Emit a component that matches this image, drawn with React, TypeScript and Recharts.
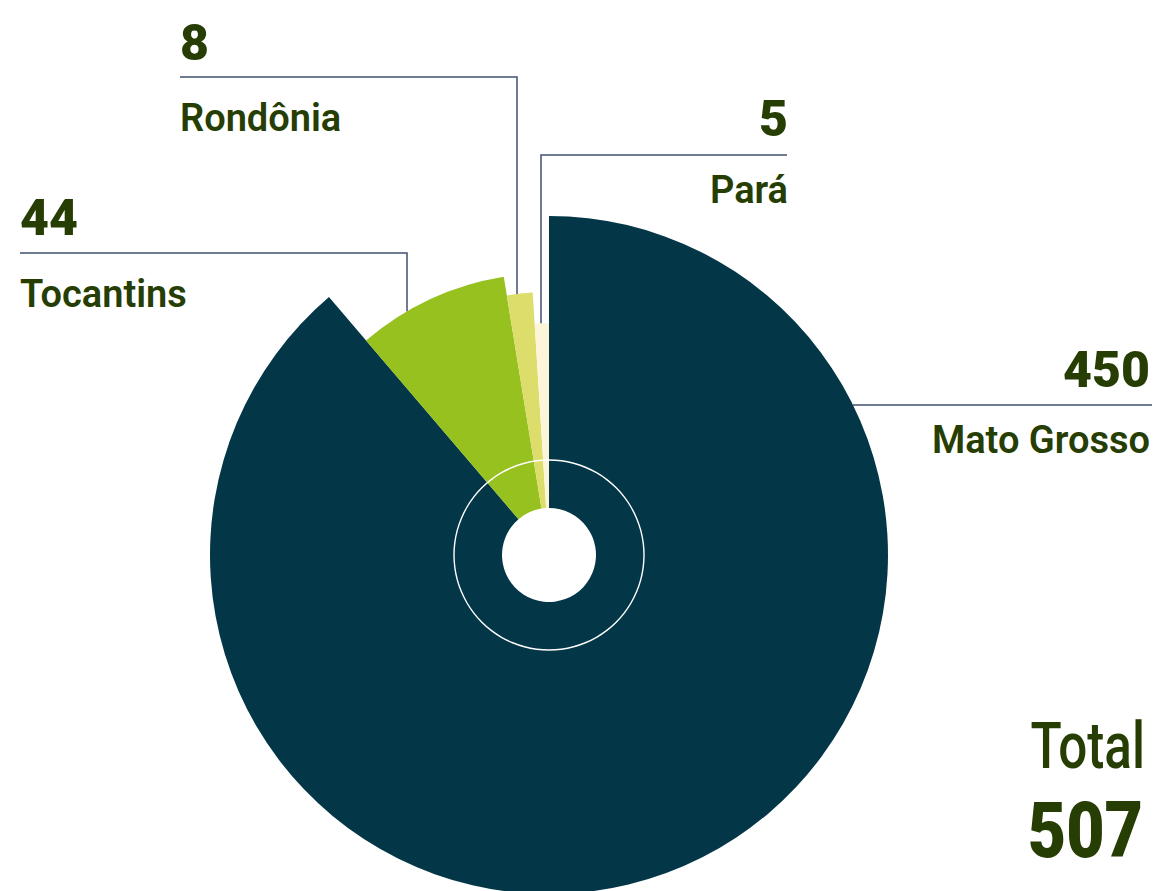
import { PieChart, Pie, Cell } from "recharts"

// estados e número de ocorrências
const categories = ["Mato Grosso", "Tocantins", "Rondônia", "Pará"]
const values = [450, 44, 8, 5]
const totalLabel = "Total"
const total = values.reduce((a, b) => a + b, 0)

const data = categories.map((name, i) => ({ name, value: values[i] }))

const COLORS = ["#033647", "#96c11f", "#dcdd6a", "#fdf5da"]
const RADII = [339, 282, 263, 232]
const TEXT = "#263d04"
const LINE = "#3f5070"
const FONT = "Roboto, 'Noto Sans', sans-serif"

const CX = 549
const CY = 555
const INNER = 47

// posição das linhas de chamada (vertical em x, horizontal em y, fim em endX)
const LAYOUT = [
  { mode: "h", y: 405, endX: 1152, anchor: "end", tx: 1150, numY: 387, nameY: 453 },
  { mode: "v", x: 407, y: 253, endX: 20, anchor: "start", tx: 20, numY: 235, nameY: 307 },
  { mode: "v", x: 517, y: 77, endX: 180, anchor: "start", tx: 180, numY: 60, nameY: 131 },
  { mode: "v", x: 541, y: 155, endX: 787, anchor: "end", tx: 788, numY: 136, nameY: 203 },
]

function renderLabel(props: any, k: number) {
  if (props.index !== k) return <g />
  const l: any = LAYOUT[k]
  const r = RADII[k]
  let points = ""
  if (l.mode === "h") {
    const sx = CX + Math.sqrt(r * r - (l.y - CY) * (l.y - CY))
    points = `${sx},${l.y} ${l.endX},${l.y}`
  } else {
    const sy = CY - Math.sqrt(r * r - (l.x - CX) * (l.x - CX))
    points = `${l.x},${sy} ${l.x},${l.y} ${l.endX},${l.y}`
  }
  return (
    <g>
      <polyline points={points} fill="none" stroke={LINE} strokeWidth={1.5} />
      <text x={l.tx} y={l.numY} textAnchor={l.anchor} fill={TEXT} fontFamily={FONT} fontSize={50} fontWeight={900}>
        {props.value}
      </text>
      <text x={l.tx} y={l.nameY} textAnchor={l.anchor} fill={TEXT} fontFamily={FONT} fontSize={38} fontWeight={600}>
        {props.name}
      </text>
    </g>
  )
}

export default function App() {
  return (
    <div style={{ position: "absolute", left: 0, top: 0 }}>
      <PieChart width={1158} height={891} margin={{ top: 0, right: 0, bottom: 0, left: 0 }}>
        {data.map((_, k) => (
          <Pie
            key={k}
            data={data}
            dataKey="value"
            nameKey="name"
            cx={CX}
            cy={CY}
            innerRadius={INNER}
            outerRadius={RADII[k]}
            startAngle={90}
            endAngle={-270}
            stroke="none"
            isAnimationActive={false}
            labelLine={false}
            label={(p: any) => renderLabel(p, k)}
          >
            {data.map((_, i) => (
              <Cell key={i} fill={i === k ? COLORS[i] : "none"} />
            ))}
          </Pie>
        ))}
        <Pie
          data={[{ name: totalLabel, value: total }]}
          dataKey="value"
          cx={CX}
          cy={CY}
          innerRadius={94.3}
          outerRadius={95.7}
          startAngle={90}
          endAngle={-270}
          fill="#ffffff"
          stroke="none"
          isAnimationActive={false}
        />
        {/* total, em fonte condensada */}
        <g transform="translate(1145,768) scale(0.8,1)">
          <text x={0} y={0} textAnchor="end" fill={TEXT} fontFamily={FONT} fontSize={64} fontWeight={500}>
            {totalLabel}
          </text>
        </g>
        <g transform="translate(1143,857) scale(0.85,1)">
          <text x={0} y={0} textAnchor="end" fill={TEXT} fontFamily={FONT} fontSize={78} fontWeight={900}>
            {total}
          </text>
        </g>
      </PieChart>
    </div>
  )
}
